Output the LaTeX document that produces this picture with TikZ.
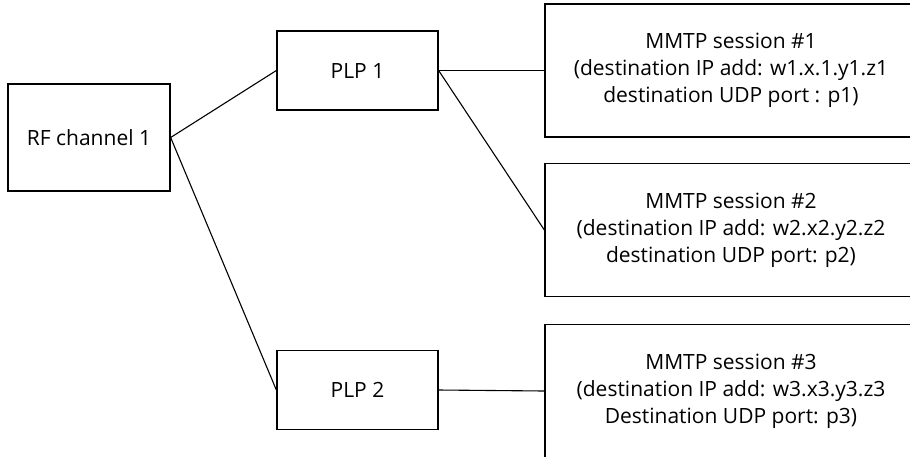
\documentclass[tikz,border=0pt]{standalone}
\usepackage{fontspec}
\setmainfont{Open Sans}
\usepackage{tikz}
\usetikzlibrary{positioning}

\begin{document}
\begin{tikzpicture}[
  x=1pt, y=-1pt,
  linkbox/.style={
    draw=black,
    line width=1.3pt,
    align=center,
    inner sep=0pt,
    font=\fontsize{21}{27}\selectfont
  },
  rfbox/.style={linkbox, minimum width=162pt, minimum height=107pt},
  plpbox/.style={linkbox, minimum width=161pt, minimum height=79pt},
  sessbox/.style={linkbox, minimum width=372pt, minimum height=133pt},
  link/.style={line width=1.1pt, draw=black}
]
\clip (0,0) rectangle (910,456);
\node[rfbox] (rf) at (89,137.5) {RF channel 1};
\node[plpbox] (plp1) at (357.5,70.5) {PLP 1};
\node[plpbox] (plp2) at (357.5,390) {PLP 2};
\node[sessbox] (mmtp1) at (731,70.5) {MMTP session \#1\\(destination IP add: w1.x.1.y1.z1\\destination UDP port : p1)};
\node[sessbox] (mmtp2) at (731,230) {MMTP session \#2\\(destination IP add: w2.x2.y2.z2\\destination UDP port: p2)};
\node[sessbox] (mmtp3) at (731,391) {MMTP session \#3\\(destination IP add: w3.x3.y3.z3\\Destination UDP port: p3)};
\draw[link] (rf.east) -- (plp1.west);
\draw[link] (rf.east) -- (plp2.west);
\draw[link] (plp1.east) -- (mmtp1.west);
\draw[link] (plp1.east) -- (mmtp2.west);
\draw[link] (plp2.east) -- (mmtp3.west);
\end{tikzpicture}
\end{document}
